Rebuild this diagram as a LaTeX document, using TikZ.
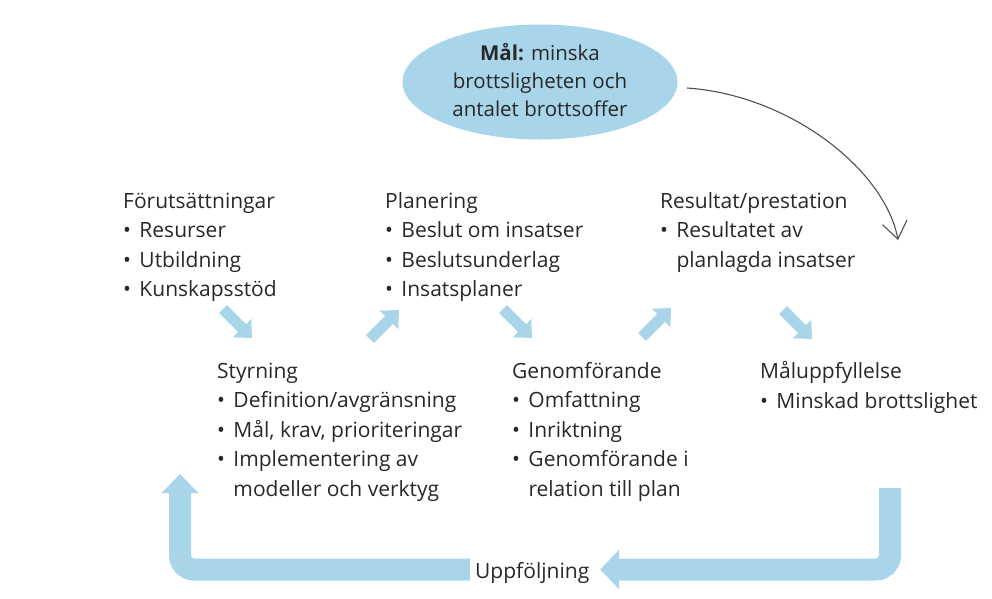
\documentclass[tikz,border=0pt]{standalone}
\usepackage{fontspec}
\setmainfont{Open Sans}
\usetikzlibrary{arrows.meta,shapes.geometric}
\definecolor{lblue}{RGB}{168,213,234}
\definecolor{txtgray}{RGB}{40,40,40}
\definecolor{curvegray}{RGB}{80,80,80}
\tikzset{
  txt/.style={font=\fontsize{21}{29.5}\selectfont, text=txtgray, align=left, inner sep=0pt, anchor=base west},
  smallarrow/.style={draw=lblue, line width=11pt, -{Triangle[length=14pt,width=25pt]}},
  bigarrow/.style={draw=lblue, line width=22pt, rounded corners=14pt},
}
\newcommand{\bl}{\textbullet\hspace{0.4em}}
\newcommand{\ind}{\hphantom{\textbullet\hspace{0.4em}}}
\begin{document}
\begin{tikzpicture}[x=1pt,y=-1pt]
\useasboundingbox (0,0) rectangle (992,598);
% goal ellipse
\node[ellipse, fill=lblue, minimum width=275pt, minimum height=115pt, inner sep=0pt] (mal) at (540,82) {};
% (multi-line nodes sit on the baseline of their last line)
\node[font=\fontsize{20.5}{28}\selectfont, text=txtgray, align=center, anchor=base, inner sep=0pt] (maltext) at (540,116)
  {\textbf{Mål:} minska\\brottsligheten och\\antalet brottsoffer};
% text blocks
\node[txt] (forut) at (123,296.5) {Förutsättningar\\\bl Resurser\\\bl Utbildning\\\bl Kunskapsstöd};
\node[txt] (plan) at (385,296.5) {Planering\\\bl Beslut om insatser\\\bl Beslutsunderlag\\\bl Insatsplaner};
\node[txt] (result) at (660,267) {Resultat/prestation\\\bl Resultatet av\\\ind planlagda insatser};
\node[txt] (styr) at (217,496) {Styrning\\\bl Definition/avgränsning\\\bl Mål, krav, prioriteringar\\\bl Implementering av\\\ind modeller och verktyg};
\node[txt] (genom) at (512,496) {Genomförande\\\bl Omfattning\\\bl Inriktning\\\bl Genomförande i\\\ind relation till plan};
\node[txt] (malupp) at (760,408) {Måluppfyllelse\\\bl Minskad brottslighet};
\node[font=\fontsize{21}{29.5}\selectfont, text=txtgray, inner sep=0pt, anchor=base west] (uppf) at (475,578) {Uppföljning};
% small arrows
\coordinate (a1s) at (223,309); \coordinate (a1e) at (252,338);
\coordinate (a2s) at (370,339); \coordinate (a2e) at (399,310);
\coordinate (a3s) at (503,309); \coordinate (a3e) at (532,338);
\coordinate (a4s) at (642,337); \coordinate (a4e) at (671,308);
\coordinate (a5s) at (783,310); \coordinate (a5e) at (812,339);
\draw[smallarrow] (a1s) -- (a1e);
\draw[smallarrow] (a2s) -- (a2e);
\draw[smallarrow] (a3s) -- (a3e);
\draw[smallarrow] (a4s) -- (a4e);
\draw[smallarrow] (a5s) -- (a5e);
% follow-up loop
\coordinate (rtop) at (890,488);
\coordinate (rtip) at (600,569.5);
\coordinate (lstart) at (470,569.5);
\coordinate (ltip) at (180,474);
\draw[bigarrow, -{Triangle[length=19pt,width=38pt]}] (rtop) |- (rtip);
\draw[bigarrow, -{Triangle[length=19pt,width=36pt]}] (lstart) -| (ltip);
% curved arrow from goal
\coordinate (cstart) at (687,88);
\coordinate (cend) at (898,240);
\draw[curvegray, line width=1.1pt, -{Straight Barb[length=17pt,width=25pt,line width=1.1pt]}]
  (cstart) .. controls (790,95) and (885,170) .. (cend);
\end{tikzpicture}
\end{document}
